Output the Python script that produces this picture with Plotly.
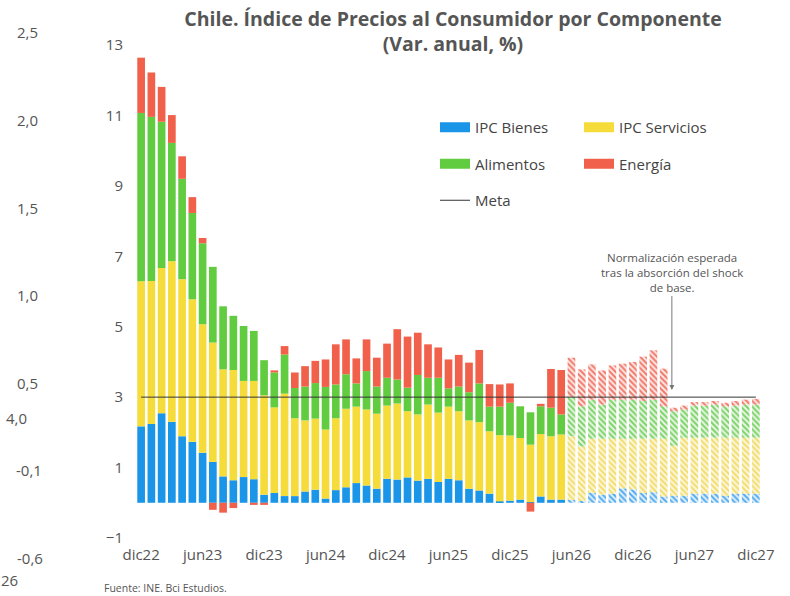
import plotly.graph_objects as go

# ── Datos (Var. anual, %) ────────────────────────────────────────────────
MESES = ["ene", "feb", "mar", "abr", "may", "jun",
         "jul", "ago", "sep", "oct", "nov", "dic"]
periodos = ["dic22"] + [f"{m}{a}" for a in range(23, 28) for m in MESES]
ticks = ["dic22", "jun23", "dic23", "jun24", "dic24", "jun25",
         "dic25", "jun26", "dic26", "jun27", "dic27"]
n_efectivo = 42  # dic22–may26 efectivo, desde jun26 proyección

bienes = [2.17, 2.24, 2.54, 2.30, 1.89, 1.73, 1.42, 1.16, 0.75, 0.64,
          0.73, 0.67, 0.23, 0.28, 0.19, 0.19, 0.32, 0.37, 0.12, 0.36,
          0.44, 0.56, 0.49, 0.40, 0.68, 0.66, 0.72, 0.63, 0.68, 0.59,
          0.68, 0.64, 0.40, 0.35, 0.26, 0.04, 0.06, 0.09, 0.02, 0.18,
          0.09, 0.09,
          0.08, 0.05, 0.28, 0.23, 0.26, 0.41, 0.38, 0.28, 0.30, 0.18,
          0.20, 0.20, 0.26, 0.26, 0.26, 0.20, 0.26, 0.26, 0.26]
servicios = [4.12, 4.06, 4.13, 4.56, 4.46, 4.05, 3.65, 3.39, 3.04, 3.13,
             2.73, 2.79, 2.82, 2.43, 2.91, 2.21, 2.02, 2.02, 1.96, 2.04,
             2.23, 2.17, 2.16, 2.13, 2.08, 2.16, 1.88, 1.88, 2.11, 1.97,
             2.05, 1.96, 1.94, 1.94, 1.77, 1.88, 1.85, 1.75, 1.63, 1.77,
             1.80, 1.85,
             1.81, 1.55, 1.54, 1.59, 1.56, 1.41, 1.44, 1.54, 1.52, 1.64,
             1.42, 1.65, 1.59, 1.59, 1.59, 1.65, 1.59, 1.59, 1.59]
alimentos = [4.78, 4.66, 4.15, 3.36, 2.85, 2.45, 2.30, 2.15, 1.79, 1.54,
             1.56, 1.42, 1.00, 0.99, 1.11, 0.86, 0.96, 1.01, 1.21, 0.96,
             0.98, 0.66, 1.09, 0.77, 0.79, 0.68, 0.67, 1.12, 0.76, 0.99,
             0.52, 0.70, 0.80, 1.10, 0.70, 0.81, 0.93, 0.90, 0.92, 0.79,
             0.81, 0.57,
             1.12, 1.14, 1.11, 0.97, 1.11, 1.11, 1.11, 1.07, 1.11, 0.92,
             0.98, 0.80, 0.91, 0.91, 0.94, 0.89, 0.91, 0.94, 0.94]
energia = [1.57, 1.26, 0.99, 0.79, 0.64, 0.45, 0.15, -0.20, -0.28, -0.15,
           0.00, -0.06, -0.06, 0.06, 0.24, 0.44, 0.58, 0.63, 0.78, 1.14,
           0.99, 0.71, 0.90, 0.82, 0.97, 1.43, 1.45, 1.20, 0.95, 0.86,
           0.82, 0.90, 0.84, 0.95, 0.64, 0.63, 0.55, 0.00, -0.25, 0.07,
           1.10, 1.26,
           1.11, 1.05, 1.00, 0.97, 0.97, 1.02, 1.07, 1.26, 1.40, 1.07,
           0.10, 0.11, 0.10, 0.10, 0.10, 0.10, 0.13, 0.14, 0.16]
meta = [3.0] * len(periodos)

# ── Estilo ───────────────────────────────────────────────────────────────
AZUL, AMARILLO, VERDE, ROJO = "#1B95E8", "#F6DC3A", "#62CC40", "#F0604A"
AZUL_P, AMARILLO_P, VERDE_P, ROJO_P = "#52ABEC", "#F2DD6E", "#7DD36A", "#F07A6C"
AZUL_F, AMARILLO_F, VERDE_F, ROJO_F = "#E4F1FC", "#FDF7DA", "#E7F6E2", "#FDE8E5"
TINTA = "#555555"
FUENTE = "Open Sans"

W, H = 790, 596
L, R, T, B = 136, 29, 45, 58

componentes = [
    ("IPC Bienes", bienes, AZUL, AZUL_P, AZUL_F, "legend"),
    ("IPC Servicios", servicios, AMARILLO, AMARILLO_P, AMARILLO_F, "legend2"),
    ("Alimentos", alimentos, VERDE, VERDE_P, VERDE_F, "legend"),
    ("Energía", energia, ROJO, ROJO_P, ROJO_F, "legend2"),
]

fig = go.Figure()
for nombre, vals, cor, cor_p, fundo, leg in componentes:
    # efectivo: barra sólida
    fig.add_trace(go.Bar(
        x=periodos[:n_efectivo], y=vals[:n_efectivo], name=nombre,
        legendgroup=nombre, showlegend=False,
        marker=dict(color=cor, line=dict(width=0)),
        hovertemplate="%{x}<br>" + nombre + ": %{y:.2f}%<extra></extra>"))
    # proyección: barra rayada
    fig.add_trace(go.Bar(
        x=periodos[n_efectivo:], y=vals[n_efectivo:], name=nombre + " (proy.)",
        legendgroup=nombre, showlegend=False,
        marker=dict(color=cor_p, line=dict(width=0),
                    pattern=dict(shape="\\", fillmode="replace", bgcolor=fundo,
                                 size=4, solidity=0.5)),
        hovertemplate="%{x}<br>" + nombre + " (proy.): %{y:.2f}%<extra></extra>"))
    # entrada de leyenda (rectángulo ancho como en el original)
    fig.add_trace(go.Scatter(
        x=[None], y=[None], mode="lines", name=nombre, legendgroup=nombre,
        legend=leg, line=dict(color=cor, width=10), hoverinfo="skip"))

fig.add_trace(go.Scatter(
    x=periodos, y=meta, mode="lines", name="Meta", legend="legend",
    legendgroup="Meta", line=dict(color="#333333", width=1),
    hovertemplate="Meta: %{y}%<extra></extra>"))

fig.add_annotation(
    x=51.8, y=3.2, ax=0, ay=-118, text="Normalización esperada<br>tras la absorción del shock<br>de base.",
    showarrow=True, arrowhead=2, arrowsize=1, arrowwidth=1, arrowcolor="#777777",
    font=dict(family=FUENTE, size=11.5, color=TINTA), align="center")


def px2paper(px, py):
    return (px - L) / (W - L - R), (H - B - py) / (H - T - B)


# textos sueltos del margen izquierdo (restos de otro gráfico en la imagen)
restos = [("2,5", 27, 32), ("2,0", 27, 120), ("1,5", 27, 208), ("1,0", 27, 295),
          ("0,5", 27, 383), ("4,0", 16, 418), ("-0,1", 29, 470),
          ("-0,6", 30, 558), ("26", 9, 580)]
for txt, px, py in restos:
    xp, yp = px2paper(px, py)
    fig.add_annotation(x=xp, y=yp, xref="paper", yref="paper", text=txt,
                       showarrow=False, xanchor="center", yanchor="middle",
                       font=dict(family=FUENTE, size=15, color=TINTA))

xp, yp = px2paper(102, 588)
fig.add_annotation(x=xp, y=yp, xref="paper", yref="paper",
                   text="Fuente: INE. Bci Estudios.", showarrow=False,
                   xanchor="left", yanchor="middle",
                   font=dict(family=FUENTE, size=10.5, color=TINTA))

leyenda = dict(orientation="v", yanchor="top", xanchor="left",
               bgcolor="rgba(0,0,0,0)",
               font=dict(family=FUENTE, size=15, color="#444444"),
               tracegroupgap=14, itemclick="toggleothers")
lx1, ly = px2paper(435, 111)
lx2, _ = px2paper(579, 111)

fig.update_layout(
    width=W, height=H, margin=dict(l=L, r=R, t=T, b=B),
    paper_bgcolor="white", plot_bgcolor="white",
    barmode="relative", bargap=0.25,
    font=dict(family=FUENTE, color=TINTA),
    title=dict(text="<b>Chile. Índice de Precios al Consumidor por Componente<br>(Var. anual, %)</b>",
               x=453 / W, xanchor="center", xref="container",
               y=1 - 26 / H, yanchor="top", yref="container",
               font=dict(family=FUENTE, size=19.5, color=TINTA)),
    legend=dict(**leyenda, x=lx1, y=ly),
    legend2=dict(**leyenda, x=lx2, y=ly),
    xaxis=dict(type="category", categoryorder="array", categoryarray=periodos,
               tickmode="array", tickvals=ticks, ticktext=ticks,
               showgrid=False, showline=False, zeroline=False, ticks="",
               ticklabelstandoff=6,
               tickfont=dict(family=FUENTE, size=15, color=TINTA)),
    yaxis=dict(range=[-1, 13], tickvals=list(range(-1, 14, 2)),
               showgrid=False, showline=False, zeroline=False, ticks="",
               ticklabelstandoff=12,
               tickfont=dict(family=FUENTE, size=15, color=TINTA)),
    showlegend=True,
)

# sin el margen por defecto del <body>, para que el gráfico ocupe la ventana
fig.write_html("out.html", config={"displayModeBar": False},
               post_script="document.body.style.margin = '0';")
